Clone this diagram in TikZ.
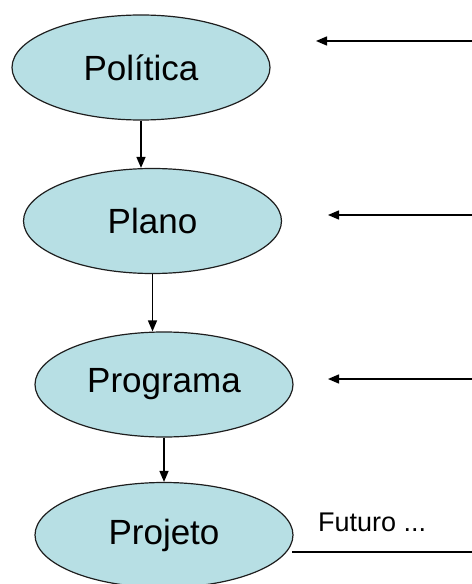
\documentclass[tikz,border=0pt]{standalone}
\usepackage{fontspec}
\setmainfont{Liberation Sans}
\usetikzlibrary{shapes.geometric,arrows.meta}
\definecolor{stagefill}{RGB}{183,223,228}
\definecolor{stageline}{RGB}{30,30,30}
\tikzset{
  stage/.style={ellipse, draw=stageline, line width=1.2bp, fill=stagefill,
    minimum width=258bp, minimum height=105bp, inner sep=0pt,
    font=\fontsize{35bp}{40bp}\selectfont},
  flow/.style={line width=1.4bp, draw=black,
    -{Triangle[length=11bp,width=9bp]}},
  plain/.style={line width=1.4bp, draw=black},
}
\begin{document}
\begin{tikzpicture}[x=1bp,y=-1bp]
  \useasboundingbox (0,0) rectangle (472,584);

  % planning levels
  \node[stage] (pol) at (141,67.5) {Política};
  \node[stage] (pla) at (152.5,221) {Plano};
  \node[stage] (prg) at (164,384.5) {Programa};
  \node[stage] (prj) at (164,535) {Projeto};

  % downward links between levels
  \draw[flow] (pol.south) -- (pol.south |- pla.north);
  \draw[flow] (pla.south) -- (pla.south |- prg.north);
  \draw[flow] (prg.south) -- (prg.south |- prj.north);

  % incoming arrows from the right margin
  \coordinate (in1s) at (472,41);
  \coordinate (in1e) at (316,41);
  \coordinate (in2s) at (472,215);
  \coordinate (in2e) at (328,215);
  \coordinate (in3s) at (472,379);
  \coordinate (in3e) at (328,379);
  \draw[flow] (in1s) -- (in1e);
  \draw[flow] (in2s) -- (in2e);
  \draw[flow] (in3s) -- (in3e);

  % future line
  \coordinate (futs) at (292,552);
  \coordinate (fute) at (472,552);
  \draw[plain] (futs) -- (fute);
  \node[anchor=base west, inner sep=0pt, font=\fontsize{27bp}{30bp}\selectfont]
    (fut) at (318,531.5) {Futuro ...};
\end{tikzpicture}
\end{document}
